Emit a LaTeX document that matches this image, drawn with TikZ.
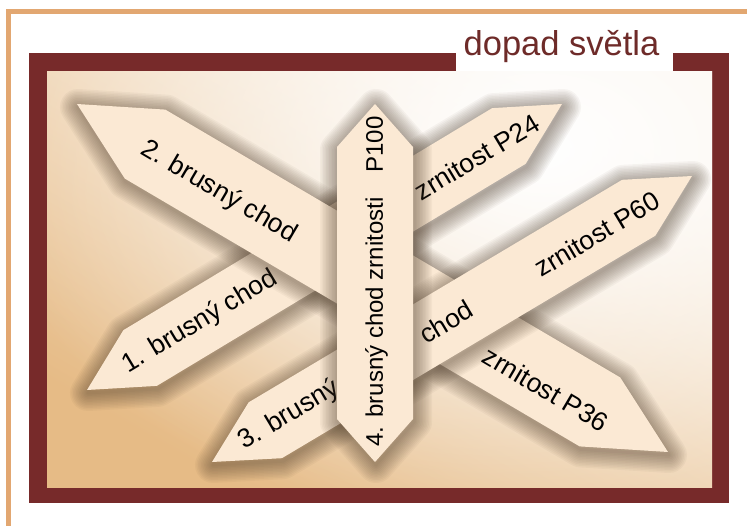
\documentclass[tikz,border=0pt]{standalone}
\usepackage{fontspec}
\setmainfont{Liberation Sans}
\usetikzlibrary{calc,fadings}
\definecolor{framec}{HTML}{772A2A}
\definecolor{titlec}{HTML}{6E2B29}
\definecolor{tanline}{HTML}{E2A771}
\definecolor{boardc}{HTML}{FBE9D4}
\definecolor{shadowc}{HTML}{4A3826}
\definecolor{bgdark}{HTML}{E6BB86}
\definecolor{bglight}{HTML}{FAF1E6}
\tikzfading[name=glowfade, inner color=transparent!0, outer color=transparent!100]
\tikzset{
  boardtext/.style={font=\fontsize{26.5}{30}\selectfont, text=black, inner sep=0pt},
  vboardtext/.style={font=\fontsize{24}{28}\selectfont, text=black, inner sep=0pt},
  boardfill/.style={fill=boardc},
  boardshadow/.style={draw=shadowc, opacity=0.042, line join=round,
     transform canvas={shift={(1pt,-3pt)}}},
}
% #1 name, #2 tip A, #3 tip B, #4 tip length, #5 half width
\newcommand\drawboard[5]{%
  \coordinate (#1-a) at (#2);
  \coordinate (#1-b) at (#3);
  \coordinate (#1-p) at ($(#1-a)!#4!(#1-b)$);
  \coordinate (#1-q) at ($(#1-b)!#4!(#1-a)$);
  \coordinate (#1-c1) at ($(#1-p)!#5!90:(#1-b)$);
  \coordinate (#1-c2) at ($(#1-q)!#5!-90:(#1-a)$);
  \coordinate (#1-c3) at ($(#1-q)!#5!90:(#1-a)$);
  \coordinate (#1-c4) at ($(#1-p)!#5!-90:(#1-b)$);
  \foreach \w in {3,6,...,36}{%
    \draw[boardshadow, line width=\w pt] (#1-a) -- (#1-c1) -- (#1-c2) -- (#1-b) -- (#1-c3) -- (#1-c4) -- cycle;
  }
  \fill[boardfill] (#1-a) -- (#1-c1) -- (#1-c2) -- (#1-b) -- (#1-c3) -- (#1-c4) -- cycle;
}
\begin{document}
\begin{tikzpicture}[x=1pt,y=-1pt]
\useasboundingbox (0,0) rectangle (747,526);
\fill[white] (0,0) rectangle (747,526);
\draw[tanline, line width=4.5pt] (8.5,526) -- (8.5,11.5) -- (747,11.5);
\fill[framec] (29,53) rectangle (729,503);
\fill[white] (456,50) rectangle (673,72.5);
\node[font=\fontsize{34.5}{40}\selectfont, text=titlec, anchor=base, inner sep=0pt] (title) at (561.5,56) {dopad světla};
\begin{scope}
  \clip (47,72) rectangle (712,487);
  \shade[top color=bglight, bottom color=bgdark, shading angle=-30] (47,72) rectangle (712,487);
  \fill[white, path fading=glowfade] (540,150) ellipse (560 and 380);
  % board 1
  \drawboard{b1}{87,390}{562,104}{62pt}{32.5pt}
  \node[boardtext, rotate=31] (t1a) at (200,322) {1. brusný chod};
  \node[boardtext, rotate=31] (t1b) at (477,157) {zrnitost P24};
  % board 2
  \drawboard{b2}{77,104}{668,452}{79pt}{40pt}
  \node[boardtext, rotate=-30.5] (t2a) at (219,192) {2. brusný chod};
  \node[boardtext, rotate=-30.5] (t2b) at (546,389) {zrnitost P36};
  % board 3
  \drawboard{b3}{212,462}{692,176}{62pt}{32.5pt}
  \node[boardtext, rotate=30.8] (t3a) at (289,415) {3. brusný};
  \node[boardtext, rotate=30.8] (t3b) at (446,322) {chod};
  \node[boardtext, rotate=30.8] (t3c) at (597,234) {zrnitost P60};
  % board 4
  \drawboard{b4}{375,462}{375,104}{43pt}{38pt}
  \node[vboardtext, rotate=90] (t4) at (376.5,281.5) {4. brusný chod zrnitosti\hspace{25pt}P100};
\end{scope}
\end{tikzpicture}
\end{document}
